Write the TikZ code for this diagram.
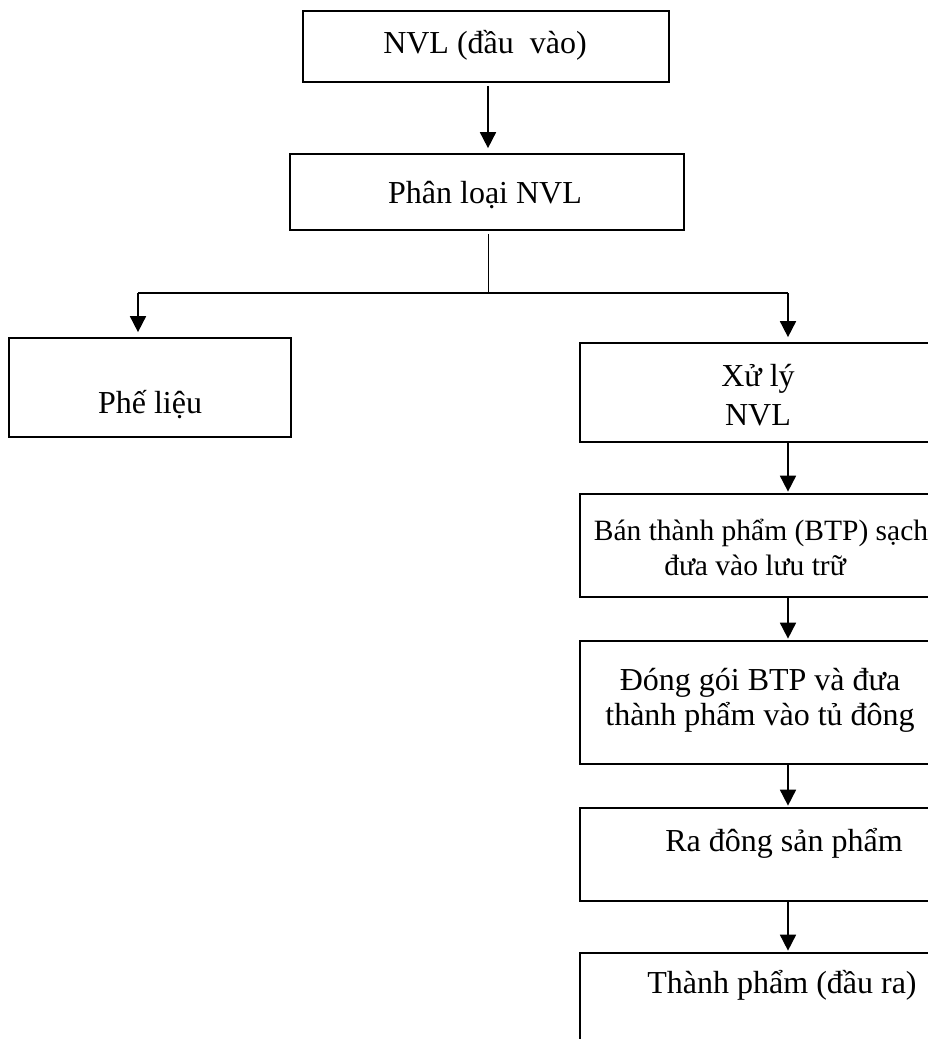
\documentclass[tikz,border=0pt]{standalone}
\usepackage{fontspec}
\setmainfont{Liberation Serif}
\usetikzlibrary{arrows.meta}
\begin{document}
\begin{tikzpicture}[x=1pt,y=-1pt,
  box/.style={draw=black,line width=1.7pt,inner sep=0pt,rectangle},
  lbl/.style={anchor=base,inner sep=0pt,font=\fontsize{32}{37}\selectfont},
  lblsmall/.style={anchor=base,inner sep=0pt,font=\fontsize{29.5}{35}\selectfont},
  arr/.style={line width=1.7pt,-{Triangle[width=16pt,length=16pt]}},
  thin/.style={line width=0.9pt}]
\useasboundingbox (0,0) rectangle (928,1039);
\clip (0,0) rectangle (928,1039);
% boxes
\node[box,minimum width=366pt,minimum height=71pt] (top) at (486,46.5) {};
\node[box,minimum width=394pt,minimum height=76pt] (phanloai) at (487,192) {};
\node[box,minimum width=282pt,minimum height=99pt] (phelieu) at (150,387.5) {};
\node[box,minimum width=365pt,minimum height=99pt] (xuly) at (762.5,392.5) {};
\node[box,minimum width=365pt,minimum height=103pt] (ban) at (762.5,545.5) {};
\node[box,minimum width=365pt,minimum height=123pt] (donggoi) at (762.5,702.5) {};
\node[box,minimum width=365pt,minimum height=93pt] (radong) at (762.5,854.5) {};
\node[box,minimum width=365pt,minimum height=107pt] (thanhpham) at (762.5,1006.5) {};
% texts
\node[lbl] (t1) at (485,53) {NVL (đầu\ \ vào)};
\node[lbl] (t2) at (485,203) {Phân loại NVL};
\node[lbl] (t3) at (150,413) {Phế liệu};
\node[lbl] (t4a) at (758,386) {Xử lý};
\node[lbl] (t4b) at (758,425) {NVL};
\node[lblsmall] (t5a) at (761,540) {Bán thành phẩm (BTP) sạch};
\node[lblsmall] (t5b) at (755,575) {đưa vào lưu trữ};
\node[lbl] (t6a) at (760,690) {Đóng gói BTP và đưa};
\node[lbl] (t6b) at (760,725) {thành phẩm vào tủ đông};
\node[lbl] (t7) at (784,851) {Ra đông sản phẩm};
\node[lbl] (t8) at (782,993) {Thành phẩm (đầu ra)};
% connector coordinates
\coordinate (mx) at (488,0);
\coordinate (branch) at (488,293);
\coordinate (bl) at (138,293);
\coordinate (br) at (788,293);
\coordinate (rx) at (788,0);
% connectors
\draw[arr,shorten <=3pt,shorten >=5pt] (top.south -| mx) -- (phanloai.north -| mx);
\draw[thin,shorten <=3pt] (phanloai.south -| mx) -- (branch);
\draw[line width=1.7pt] (bl) -- (br);
\draw[arr,shorten >=5pt] (bl) -- (bl |- phelieu.north);
\draw[arr,shorten >=5pt] (br) -- (br |- xuly.north);
\draw[arr,shorten >=1.5pt] (xuly.south -| rx) -- (ban.north -| rx);
\draw[arr,shorten >=1.5pt] (ban.south -| rx) -- (donggoi.north -| rx);
\draw[arr,shorten >=1.5pt] (donggoi.south -| rx) -- (radong.north -| rx);
\draw[arr,shorten >=1.5pt] (radong.south -| rx) -- (thanhpham.north -| rx);
\end{tikzpicture}
\end{document}
